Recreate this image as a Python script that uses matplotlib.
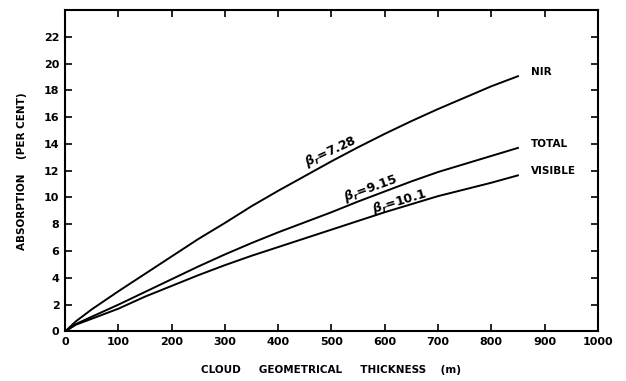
import numpy as np
import matplotlib
matplotlib.use('Agg')
import matplotlib.pyplot as plt

# cloud thickness (m) and absorption (per cent) for each band
thickness = [0, 20, 50, 100, 150, 200, 250, 300, 350, 400, 450, 500,
             550, 600, 650, 700, 750, 800, 850]
nir = [0, 0.75, 1.65, 3.0, 4.3, 5.6, 6.9, 8.1, 9.35, 10.5, 11.6, 12.7,
       13.75, 14.75, 15.7, 16.6, 17.45, 18.3, 19.05]
total = [0, 0.55, 1.1, 2.0, 2.95, 3.9, 4.85, 5.75, 6.6, 7.4, 8.15, 8.9,
         9.7, 10.45, 11.2, 11.9, 12.5, 13.1, 13.7]
visible = [0, 0.5, 0.95, 1.7, 2.6, 3.4, 4.2, 4.95, 5.65, 6.3, 6.95, 7.6,
           8.25, 8.9, 9.5, 10.1, 10.6, 11.1, 11.65]

curve_names = ['NIR', 'TOTAL', 'VISIBLE']
beta_labels = [r'$\beta_r$=7.28', r'$\beta_r$=9.15', r'$\beta_r$=10.1']

x_ticks = list(range(0, 1001, 100))
y_ticks = list(range(0, 23, 2))

plt.rcParams['font.family'] = ['DejaVu Sans']
plt.rcParams['font.weight'] = 'bold'

fig = plt.figure(figsize=(6.26, 3.81), dpi=100)
ax = fig.add_axes([0.104, 0.130, 0.851, 0.844])

for ys in (nir, total, visible):
    ax.plot(thickness, ys, color='black', lw=1.4)

# band names at the right-hand end of each curve
for name, ys in zip(curve_names, (nir, total, visible)):
    ax.text(875, ys[-1] + 0.3, name, fontsize=7.5, fontweight='bold',
            ha='left', va='center')

# beta labels laid along the curves
ax.text(505, 12.85, beta_labels[0], fontsize=9, rotation=25,
        ha='center', va='bottom', rotation_mode='anchor')
ax.text(578, 10.1, beta_labels[1], fontsize=9, rotation=20,
        ha='center', va='bottom', rotation_mode='anchor')
ax.text(632, 9.1, beta_labels[2], fontsize=9, rotation=17,
        ha='center', va='bottom', rotation_mode='anchor')

ax.set_xlim(0, 1000)
ax.set_ylim(0, 24)
ax.set_xticks(x_ticks)
ax.set_yticks(y_ticks)
ax.set_xticklabels([str(t) for t in x_ticks], fontsize=8, fontweight='bold')
ax.set_yticklabels([str(t) for t in y_ticks], fontsize=8, fontweight='bold')
ax.tick_params(direction='in', length=5, width=1.2, top=True, right=True,
               pad=4)

for s in ax.spines.values():
    s.set_linewidth(1.5)

ax.set_xlabel('CLOUD     GEOMETRICAL     THICKNESS    (m)', fontsize=7.5,
              fontweight='bold', labelpad=13)
ax.set_ylabel('ABSORPTION    (PER CENT)', fontsize=7.5, fontweight='bold',
              labelpad=12)

fig.savefig('out.png', dpi=100)
